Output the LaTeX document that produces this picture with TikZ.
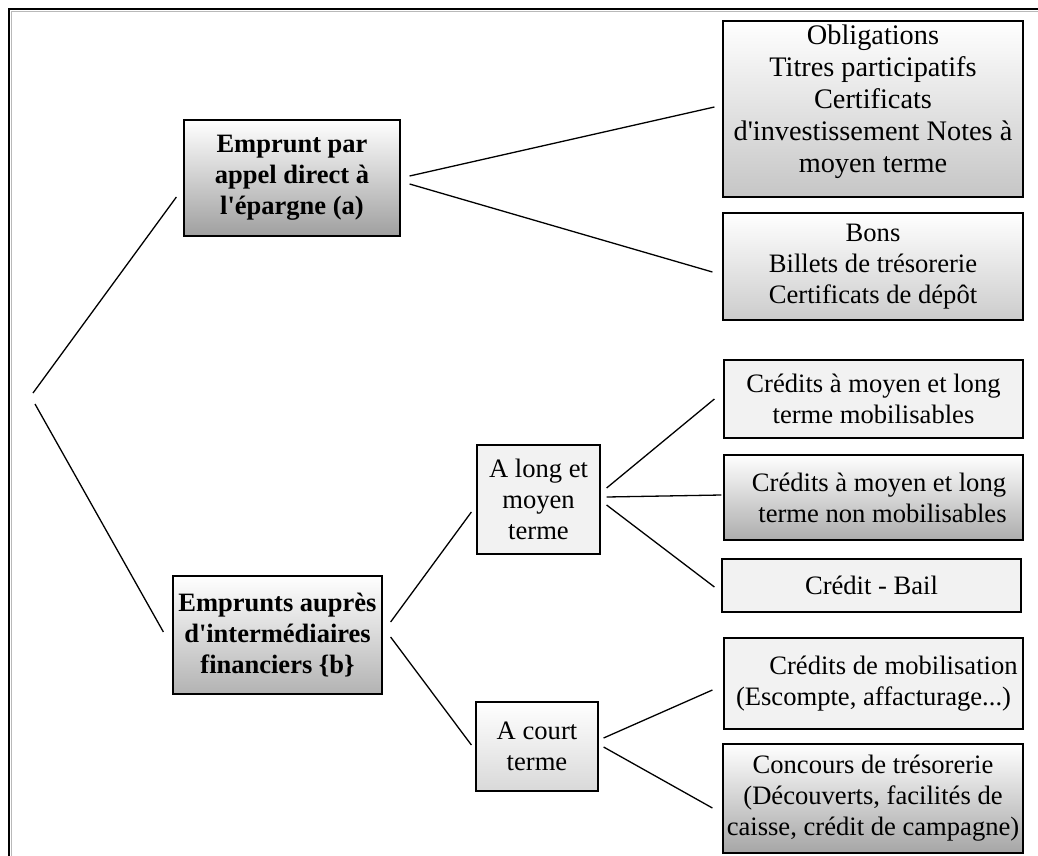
\documentclass[tikz,border=0pt]{standalone}
\usepackage{fontspec}
\setmainfont{Liberation Serif}[Ligatures=TeXOff]
\usetikzlibrary{shadows}
\tikzset{
  box/.style={draw=black, line width=1.2pt, rectangle, align=center, inner sep=0pt,
    font=\fontsize{26.6}{31}\selectfont,
    drop shadow={shadow xshift=1.3pt, shadow yshift=-1.3pt, fill=gray!60, opacity=1}},
  boldbox/.style={box, font=\fontsize{26.5}{31}\selectfont\bfseries},
  grad/.style={top color=white, bottom color=#1},
  flat/.style={fill=gray!10},
  link/.style={line width=1.3pt},
  frame/.style={line width=1.6pt},
}
\begin{document}
\begin{tikzpicture}[x=1pt,y=-1pt]
\useasboundingbox (0,0) rectangle (1038,856);
\fill[white] (0,0) rectangle (1038,856);
% outer frame
\draw[gray!55, line width=1pt] (11.5,856) -- (11.5,11.5) -- (1038,11.5);
\draw[frame] (9,856) -- (9,9) -- (1038,9);

% level 1
\node[boldbox, grad=gray!75, minimum width=216pt, minimum height=116pt] (A) at (292,178)
  {Emprunt par\\appel direct à\\l'épargne (a)};
\node[boldbox, grad=gray!60, minimum width=209pt, minimum height=118pt] (B) at (277.5,635)
  {Emprunts auprès\\d'intermédiaires\\financiers \{b\}};

% level 2
\node[box, flat, minimum width=123pt, minimum height=109pt] (L) at (538.5,499.5)
  {A long et\\moyen\\terme};
\node[box, grad=gray!30, minimum width=122pt, minimum height=89pt] (C) at (537,746.5)
  {A court\\terme};

% right column
\node[box, grad=gray!45, minimum width=300pt, minimum height=176pt,
      font=\fontsize{28.3}{32}\selectfont, text depth=20pt] (O) at (873,109)
  {Obligations\\Titres participatifs\\Certificats\\d'investissement Notes à\\moyen terme};
\node[box, grad=gray!40, minimum width=300pt, minimum height=107pt] (Bo) at (873,266.5)
  {Bons\\Billets de trésorerie\\Certificats de dépôt};
\node[box, flat, minimum width=299pt, minimum height=78pt] (M) at (873.5,399)
  {Crédits à moyen et long\\terme mobilisables};
\node[box, grad=gray!65, minimum width=299pt, minimum height=85pt] (N) at (873.5,497.5)
  {\hspace*{11pt}Crédits à moyen et long\\\hspace*{18pt}terme non mobilisables};
\node[box, flat, minimum width=299pt, minimum height=53pt] (Cb) at (871.5,585.5)
  {Crédit - Bail};
\node[box, flat, minimum width=299pt, minimum height=91pt] (Mo) at (873.5,683.5)
  {\hspace*{40pt}Crédits de mobilisation\\(Escompte, affacturage...)};
\node[box, grad=gray!70, minimum width=300pt, minimum height=109pt] (T) at (873,798.5)
  {Concours de trésorerie\\(Découverts, facilités de\\caisse, crédit de campagne)};

% root
\coordinate (r1) at (33,393);
\coordinate (r2) at (35,404);

% connectors
\draw[link] (r1) -- ([xshift=-7pt,yshift=-19pt]A.west);
\draw[link] (r2) -- ([xshift=-9pt,yshift=3pt]B.west);

\draw[link] ([xshift=9pt,yshift=2pt]A.east) -- ([xshift=-8pt,yshift=2pt]O.west);
\draw[link] ([xshift=9pt,yshift=-6pt]A.east) -- ([xshift=-10pt,yshift=-5.5pt]Bo.west);

\draw[link] ([xshift=8pt,yshift=13pt]B.east) -- ([xshift=-5pt,yshift=-12.5pt]L.west);
\draw[link] ([xshift=8pt,yshift=-2pt]B.east) -- ([xshift=-4pt,yshift=1.5pt]C.west);

\draw[link] ([xshift=6pt,yshift=11.5pt]L.east) -- ([xshift=-9pt]M.west);
\draw[link] ([xshift=6pt,yshift=2.5pt]L.east) -- ([xshift=-2pt,yshift=2.5pt]N.west);
\draw[link] ([xshift=6pt,yshift=-5.5pt]L.east) -- ([xshift=-7pt,yshift=-1.5pt]Cb.west);

\draw[link] ([xshift=5pt,yshift=8.5pt]C.east) -- ([xshift=-11pt,yshift=-6.5pt]Mo.west);
\draw[link] ([xshift=5pt,yshift=-0.5pt]C.east) -- ([xshift=-10pt,yshift=-9.5pt]T.west);
\end{tikzpicture}
\end{document}
